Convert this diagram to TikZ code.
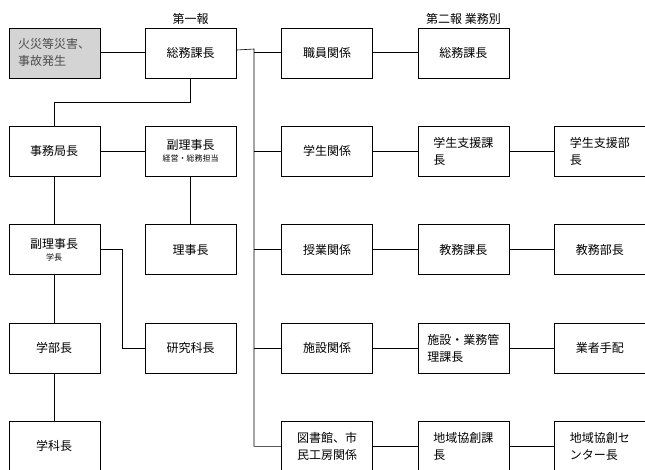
\documentclass[tikz,border=0pt]{standalone}
\usepackage{fontspec}
\setmainfont{Noto Sans CJK JP}
\usetikzlibrary{positioning}
\begin{document}
\begin{tikzpicture} [
    x=1pt, y=-1pt,
    block/.style    = { rectangle, draw, fill=white, minimum width=91pt,
                        minimum height=50pt, inner sep=2pt, font=\fontsize{12}{17}\selectfont },
    start/.style    = { block, fill=black!17, text=black!70, align=left },
    wrap/.style     = { align=left },
    sub/.style      = { font=\fontsize{8}{10}\selectfont },
    line/.style     = { draw, semithick },
  ]
  \useasboundingbox (0,0) rectangle (645,469);

  % Define nodes in matrix
  \matrix [column sep=45pt, row sep=48pt, anchor=north west] at (5,24) {
\node[start](fire){火災等災害、\\事故発生}; & \node[block](soumu){総務課長}; & \node[block](shokuin){職員関係}; & \node[block](soumu2){総務課長}; & \\
\node[block](jimu){事務局長}; & \node[block](fuku1){\shortstack{副理事長\\[1pt]{\fontsize{8}{10}\selectfont 経営・総務担当}}}; & \node[block](gakusei){学生関係}; & \node[block,wrap](shien){学生支援課\\長}; & \node[block,wrap](shienbu){学生支援部\\長}; \\
\node[block](fuku2){\shortstack{副理事長\\[1pt]{\fontsize{8}{10}\selectfont 学長}}}; & \node[block](riji){理事長}; & \node[block](jugyo){授業関係}; & \node[block](kyomu){教務課長}; & \node[block](kyomubu){教務部長}; \\
\node[block](gakubu){学部長}; & \node[block](kenkyu){研究科長}; & \node[block](shisetsu){施設関係}; & \node[block,wrap](kanri){施設・業務管\\理課長}; & \node[block](gyosha){業者手配}; \\
\node[block](gakka){学科長}; & & \node[block,wrap](tosho){図書館、市\\民工房関係}; & \node[block,wrap](chiiki){地域協創課\\長}; & \node[block,wrap](chiikic){地域協創セ\\ンター長}; \\
  };

  \node[above=0pt of soumu, font=\fontsize{12}{14}\selectfont] {第一報};
  \node[above=0pt of soumu2, font=\fontsize{12}{14}\selectfont] {第二報\ 業務別};

  % connect the nodes
  \coordinate (trunk) at (254,49);
  \path [line] (fire) -- (soumu);
  \path [line] (soumu) -- (trunk) |- (tosho);
  \foreach \a in {shokuin, gakusei, jugyo, shisetsu}
    \path [line] (trunk |- \a) -- (\a);
  \path [line] (soumu.south) -- ++(0,24) -| (jimu.north);
  \path [line] (jimu) -- (fuku1);
  \path [line] (fuku1) -- (riji);
  \path [line] (jimu) -- (fuku2);
  \path [line] (fuku2) -- (gakubu);
  \path [line] (gakubu) -- (gakka);
  \path [line] (fuku2.east) -- ++(22,0) |- (kenkyu);
  \path [line] (shokuin) -- (soumu2);
  \path [line] (gakusei) -- (shien);
  \path [line] (shien) -- (shienbu);
  \path [line] (jugyo) -- (kyomu);
  \path [line] (kyomu) -- (kyomubu);
  \path [line] (shisetsu) -- (kanri);
  \path [line] (kanri) -- (gyosha);
  \path [line] (tosho) -- (chiiki);
  \path [line] (chiiki) -- (chiikic);
\end{tikzpicture}
\end{document}
